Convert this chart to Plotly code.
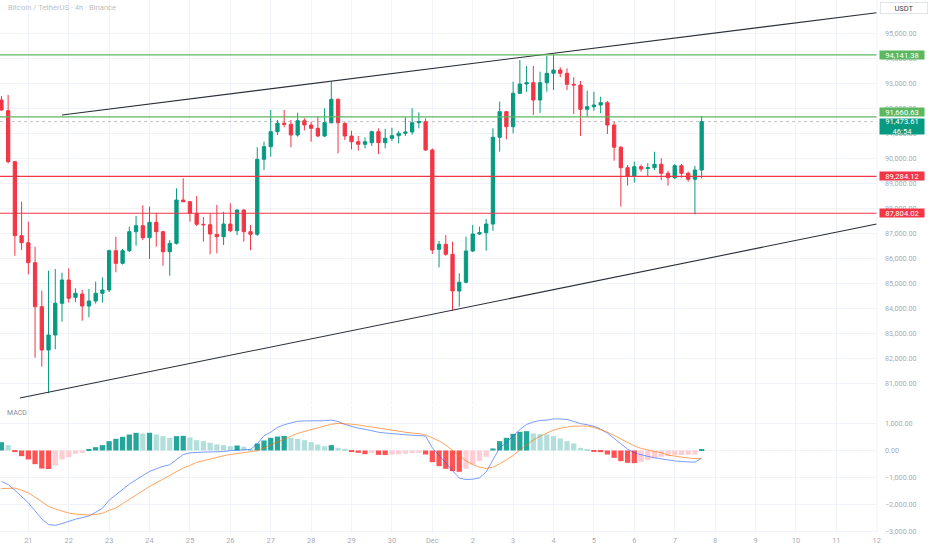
import plotly.graph_objects as go
import pandas as pd

# ---------------- data ----------------
start_time = "2025-11-20 08:00"
n_candles = 105

opens = [92338, 91910, 89868, 86906, 86626, 85825, 84064, 82330, 82931, 84200,
         85133, 84440, 84570, 84091, 84292, 84600, 84732, 86305, 85801, 86305,
         87066, 87306, 86826, 87442, 87066, 86265, 86601, 88335, 88268, 87803,
         87362, 87346, 86960, 86866, 87374, 87106, 87935, 87066, 86962, 89964,
         90469, 91069, 91406, 91366, 90937, 91509, 91337, 91205, 90897, 91429,
         92366, 91400, 90897, 90669, 90565, 90629, 91069, 90629, 90805, 90909,
         91005, 91057, 91429, 91469, 90336, 86362, 86562, 86161, 84692, 85040,
         86293, 86974, 87026, 87374, 90845, 91870, 91269, 92606, 92978, 93030,
         92338, 93030, 93407, 93539, 93407, 92966, 92938, 91966, 92070, 92138,
         92230, 91337, 90445, 89628, 89296, 89668, 89600, 89628, 89764, 89404,
         89228, 89708, 89404, 89164, 89536]
highs = [92500, 92538, 89900, 88267, 87466, 86466, 84704, 85505, 85573, 85425,
         85600, 84800, 84740, 84770, 85070, 85241, 86350, 86866, 86380, 87267,
         87695, 88123, 88067, 87803, 87100, 86734, 88803, 89204, 88300, 88495,
         87650, 87803, 88135, 87866, 88203, 87960, 87960, 87334, 90445, 90669,
         91938, 91538, 91938, 91538, 91830, 91610, 91469, 91670, 92006, 93071,
         92400, 91450, 91109, 90897, 90842, 91110, 91205, 91185, 91229, 91100,
         91646, 92006, 91846, 91606, 90400, 86700, 86934, 86666, 85401, 86866,
         87334, 87267, 87570, 91206, 92270, 91900, 93071, 93939, 93699, 93699,
         93471, 94099, 94141, 93650, 93607, 93250, 93100, 92710, 92670, 92470,
         92300, 91470, 90500, 89735, 89870, 89750, 89810, 90269, 90005, 89500,
         89780, 89780, 89470, 89700, 91700]
lows = [91900, 89800, 86105, 86334, 85361, 82022, 81662, 80597, 82358, 83463,
        84230, 84250, 83503, 83640, 84190, 84230, 84650, 85441, 85750, 86250,
        86506, 86734, 85973, 86466, 85705, 85305, 86550, 88250, 87466, 87294,
        86666, 86161, 86201, 86534, 87050, 86934, 86666, 86334, 86900, 89536,
        90069, 90937, 91246, 90445, 90870, 91125, 90669, 90850, 90850, 91400,
        90204, 90737, 90361, 90309, 90402, 90500, 90176, 90402, 90697, 90600,
        90900, 90950, 91205, 90300, 86173, 85641, 86100, 83892, 84064, 85000,
        86250, 86930, 86306, 87100, 90269, 90765, 91005, 92580, 92670, 91738,
        91820, 92670, 92738, 93250, 92738, 91778, 90897, 91670, 91910, 91805,
        90977, 89908, 88067, 88907, 89027, 89470, 89274, 89536, 89136, 88907,
        89170, 89228, 89070, 87762, 89200]
closes = [91938, 89868, 86906, 86626, 85825, 84064, 82330, 82931, 84200, 85133,
          84400, 84600, 84091, 84292, 84600, 84732, 86305, 85801, 86305, 87066,
          87306, 86826, 87442, 87066, 86265, 86601, 88335, 88268, 87803, 87362,
          87346, 86974, 86866, 87374, 87106, 87935, 87066, 86962, 89964, 90469,
          91069, 91406, 91366, 90937, 91509, 91337, 91205, 90897, 91429, 92366,
          91429, 90897, 90669, 90565, 90669, 91069, 90629, 90805, 90909, 91005,
          91057, 91429, 91469, 90336, 86334, 86562, 86161, 84692, 85040, 86293,
          86974, 87026, 87374, 90845, 91870, 91269, 92606, 92978, 93030, 92338,
          93030, 93407, 93539, 93407, 92966, 92938, 91966, 92070, 92138, 92230,
          91337, 90445, 89628, 89296, 89668, 89576, 89628, 89764, 89404, 89228,
          89708, 89404, 89164, 89536, 91473.61]

macd_hist = [310, 200, -60, -211, -335, -509, -670, -690, -559, -335,
             -248, -124, -87, 37, 124, 199, 348, 435, 509, 596,
             658, 633, 660, 596, 534, 472, 534, 545, 484, 385,
             348, 286, 224, 199, 161, 186, 137, 62, 261, 373,
             472, 520, 540, 472, 435, 385, 311, 224, 161, 199,
             99, 37, -50, -87, -137, -87, -161, -170, -149, -140,
             -124, -99, -87, -149, -435, -584, -683, -770, -795, -683,
             -522, -397, -236, 75, 348, 472, 621, 695, 720, 633,
             610, 596, 534, 447, 348, 261, 99, 37, -37, -62,
             -149, -273, -397, -460, -470, -422, -360, -286, -236, -211,
             -174, -170, -161, -149, 37]
macd_line = [-1150, -1270, -1480, -1720, -1950, -2250, -2550, -2757, -2790, -2720,
             -2630, -2560, -2500, -2440, -2300, -2150, -1850, -1650, -1460, -1250,
             -1090, -950, -780, -680, -590, -530, -330, -150, -90, -65,
             -60, -55, -50, -40, -5, 10, 25, 40, 250, 550,
             680, 860, 960, 1030, 1090, 1100, 1100, 1095, 1110, 1130,
             1080, 970, 900, 830, 790, 730, 680, 650, 620, 600,
             585, 570, 560, 540, 100, -180, -470, -780, -1030, -1080,
             -1070, -1020, -800, -350, 100, 300, 560, 780, 970, 1060,
             1120, 1130, 1180, 1170, 1160, 1080, 1000, 960, 900, 800,
             650, 450, 250, 50, -90, -160, -220, -270, -310, -370,
             -390, -410, -430, -435, -280]
signal_line = [-1420, -1400, -1400, -1480, -1577, -1740, -1900, -2080, -2180, -2270,
               -2330, -2370, -2395, -2405, -2380, -2340, -2230, -2140, -1980, -1810,
               -1660, -1500, -1340, -1200, -1040, -910, -780, -650, -560, -440,
               -380, -310, -250, -195, -150, -120, -95, -60, -10, 100,
               200, 320, 430, 530, 640, 710, 790, 860, 930, 980,
               1010, 1006, 980, 950, 910, 870, 820, 780, 740, 700,
               680, 650, 630, 580, 480, 360, 200, 0, -180, -390,
               -520, -620, -670, -620, -500, -330, -190, 20, 200, 390,
               530, 650, 760, 830, 880, 910, 910, 910, 860, 780,
               680, 560, 420, 290, 170, 80, 10, -40, -80, -170,
               -210, -250, -280, -300, -311]

resistance_levels = [94141.38, 91660.63]
support_levels = [89284.12, 87804.02]
last_price = 91473.61
countdown = "46:54"

upper_trend_x = ["2025-11-21 20:00", "2025-12-12 00:00"]
upper_trend_y = [91740, 95830]
lower_trend_x = ["2025-11-20 19:00", "2025-12-12 00:00"]
lower_trend_y = [80409, 87374]

day_ticks = pd.date_range("2025-11-21", "2025-12-12", freq="D")
day_labels = ["21", "22", "23", "24", "25", "26", "27", "28", "29", "30", "Dec",
              "2", "3", "4", "5", "6", "7", "8", "9", "10", "11", "12"]
price_ticks = list(range(81000, 96000, 1000))
macd_ticks = [-3000, -2000, -1000, 0, 1000]

title_text = "Bitcoin / TetherUS · 4h · Binance"
currency = "USDT"

# ---------------- figure ----------------
times = pd.date_range(start_time, periods=n_candles, freq="4h")

UP = "#089981"
DOWN = "#f23645"
LEVEL_GREEN = "#5cb860"
GRID = "#f0f3fa"
TXT = "#a8abb3"
FONT = "Roboto, Liberation Sans, sans-serif"

hist_colors = []
prev = None
for v in macd_hist:
    if v >= 0:
        c = "#26a69a" if (prev is None or v >= prev) else "#b2dfdb"
    else:
        c = "#ff5252" if (prev is None or v <= prev) else "#ffcdd2"
    hist_colors.append(c)
    prev = v

fig = go.Figure()

fig.add_trace(go.Candlestick(
    x=times, open=opens, high=highs, low=lows, close=closes,
    increasing=dict(line=dict(color=UP, width=1), fillcolor=UP),
    decreasing=dict(line=dict(color=DOWN, width=1), fillcolor=DOWN),
    whiskerwidth=0, xaxis="x", yaxis="y", showlegend=False, hoverinfo="skip"))

fig.add_trace(go.Scatter(x=upper_trend_x, y=upper_trend_y, mode="lines",
                         line=dict(color="#2a2e39", width=1.1),
                         xaxis="x", yaxis="y", showlegend=False, hoverinfo="skip"))
fig.add_trace(go.Scatter(x=lower_trend_x, y=lower_trend_y, mode="lines",
                         line=dict(color="#2a2e39", width=1.1),
                         xaxis="x", yaxis="y", showlegend=False, hoverinfo="skip"))

fig.add_trace(go.Bar(x=times, y=macd_hist, marker=dict(color=hist_colors, line=dict(width=0)),
                     xaxis="x2", yaxis="y2", showlegend=False, hoverinfo="skip"))
fig.add_trace(go.Scatter(x=times, y=macd_line, mode="lines",
                         line=dict(color="#2962ff", width=1), opacity=0.62,
                         xaxis="x2", yaxis="y2", showlegend=False, hoverinfo="skip"))
fig.add_trace(go.Scatter(x=times, y=signal_line, mode="lines",
                         line=dict(color="#ff6d00", width=1), opacity=0.62,
                         xaxis="x2", yaxis="y2", showlegend=False, hoverinfo="skip"))

shapes = []
for lv in resistance_levels:
    shapes.append(dict(type="line", xref="paper", x0=0, x1=1, yref="y", y0=lv, y1=lv,
                       line=dict(color=LEVEL_GREEN, width=1.2)))
for lv in support_levels:
    shapes.append(dict(type="line", xref="paper", x0=0, x1=1, yref="y", y0=lv, y1=lv,
                       line=dict(color=DOWN, width=1.2)))
shapes.append(dict(type="line", xref="paper", x0=0, x1=1, yref="y", y0=last_price, y1=last_price,
                   line=dict(color="rgba(120,123,134,0.45)", width=1, dash="dot")))
shapes.append(dict(type="line", xref="paper", x0=0, x1=1, yref="y2", y0=0, y1=0,
                   line=dict(color="#b2b5be", width=1, dash="dash"), layer="below"))
shapes.append(dict(type="line", xref="paper", x0=1, x1=1, yref="paper", y0=0, y1=1,
                   line=dict(color=GRID, width=1)))

fmt = lambda v: f"{v:,.2f}"
ann = []
ann.append(dict(text=title_text, xref="paper", yref="paper", x=0.007, y=1 - 7.5 / 534,
                xanchor="left", yanchor="middle", showarrow=False,
                font=dict(family=FONT, size=7.6, color="#bcbfc6")))
ann.append(dict(text="MACD", xref="paper", yref="paper", x=0.006, y=1 - 413 / 534,
                xanchor="left", yanchor="middle", showarrow=False,
                font=dict(family=FONT, size=7, color="#8a8d96")))
ann.append(dict(text=currency, xref="paper", yref="paper", x=880 / 877, y=1 - 8 / 534,
                xanchor="left", yanchor="middle", showarrow=False, width=46, height=10,
                bgcolor="white", bordercolor="#e0e3eb", borderwidth=1, borderpad=0,
                font=dict(family=FONT, size=7.5, color="#434651")))

def price_label(val, color, anchor, text=None, height=8, yshift=0):
    return dict(text=text if text else fmt(val), xref="paper", yref="y", x=879 / 877, y=val,
                xanchor="left", yanchor=anchor, yshift=yshift, showarrow=False,
                width=44, height=height, bgcolor=color, borderpad=0,
                font=dict(family=FONT, size=7.6, color="white"))

ann.append(price_label(resistance_levels[0], LEVEL_GREEN, "middle"))
ann.append(price_label(resistance_levels[1], LEVEL_GREEN, "bottom"))
ann.append(price_label(last_price, UP, "top", text=fmt(last_price) + "<br>" + countdown,
                       height=15, yshift=4))
ann.append(price_label(support_levels[0], DOWN, "middle"))
ann.append(price_label(support_levels[1], DOWN, "middle"))

x_range = ["2025-11-20 07:10", "2025-12-12 00:10"]

fig.update_layout(
    width=932, height=550,
    margin=dict(l=0, r=55, t=0, b=16),
    paper_bgcolor="white", plot_bgcolor="white",
    bargap=0.22, showlegend=False,
    xaxis=dict(domain=[0, 1], anchor="y", type="date", range=x_range,
               tickvals=day_ticks, showticklabels=False, showgrid=True, gridcolor=GRID,
               gridwidth=1, zeroline=False, rangeslider=dict(visible=False), fixedrange=True),
    yaxis=dict(domain=[1 - 404 / 534, 1], anchor="x", side="right", range=[80169, 96341],
               tickvals=price_ticks, tickformat=",.2f", showgrid=True, gridcolor=GRID,
               zeroline=False, ticks="", ticklabelstandoff=7,
               tickfont=dict(family=FONT, size=7.2, color=TXT)),
    xaxis2=dict(domain=[0, 1], anchor="y2", type="date", range=x_range, matches="x",
                tickvals=day_ticks, ticktext=day_labels, showgrid=True, gridcolor=GRID,
                zeroline=False, ticks="", ticklabelstandoff=1,
                tickfont=dict(family=FONT, size=7.4, color=TXT)),
    yaxis2=dict(domain=[0, 128 / 534], anchor="x2", side="right", range=[-3110, 1657],
                tickvals=macd_ticks, tickformat=",.2f", showgrid=True, gridcolor=GRID,
                zeroline=False, ticks="", ticklabelstandoff=7,
                tickfont=dict(family=FONT, size=7.2, color=TXT)),
    shapes=shapes, annotations=ann,
)

fig.write_html("out.html", config={"displayModeBar": False},
               post_script="document.body.style.margin='0';document.body.style.overflow='hidden';")
